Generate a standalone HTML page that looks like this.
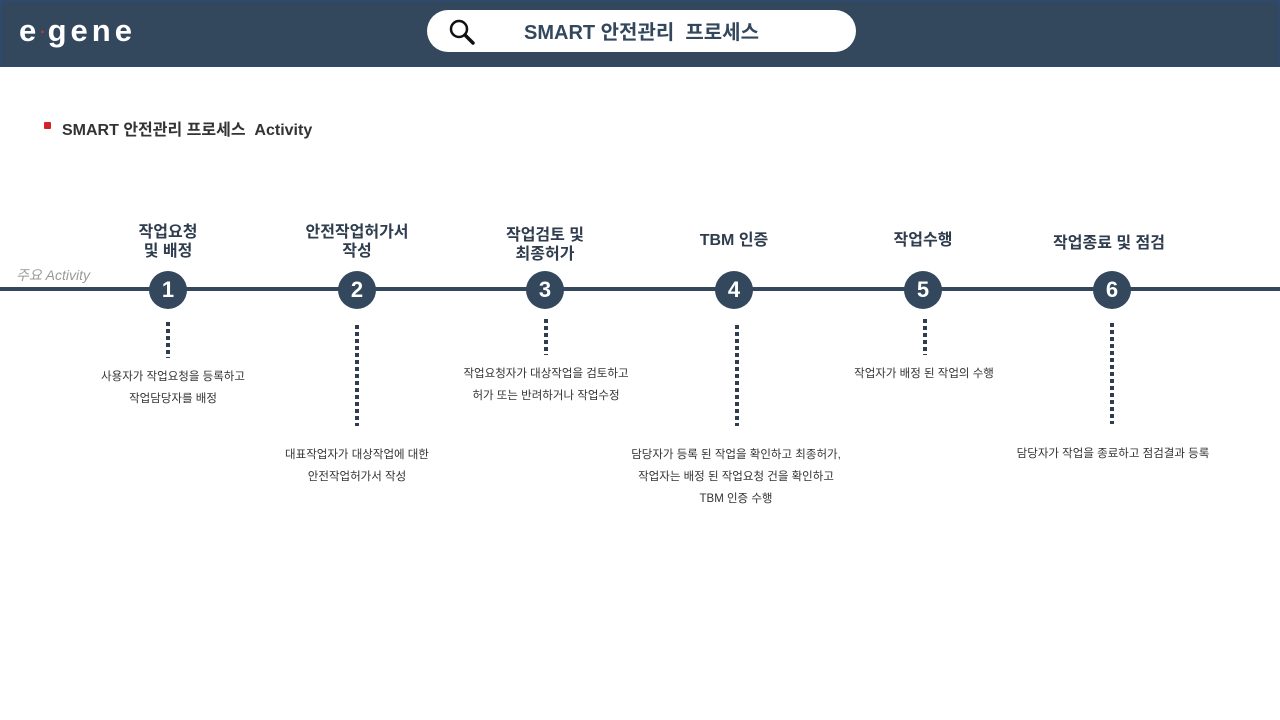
<!DOCTYPE html>
<html><head><meta charset="utf-8"><style>
*{margin:0;padding:0;box-sizing:border-box}
body{width:1280px;height:720px;background:#fff;position:relative;overflow:hidden;font-family:"Liberation Sans","Noto Sans CJK KR",sans-serif;color:#2f3d4e}
.hdr{position:absolute;left:0;top:0;width:1280px;height:67px;background:#33475d;border:1px solid #2c4a78}
.logo{position:absolute;left:18px;top:14px;color:#fff;font-size:31px;line-height:32px;font-weight:bold;letter-spacing:4px;font-family:"Liberation Sans",sans-serif}
.logo i{color:#d33;font-style:normal;font-size:16px;vertical-align:middle;letter-spacing:2px}
.search{position:absolute;left:426px;top:9px;width:429px;height:42px;background:#fff;border-radius:21px}
.search span{position:absolute;left:0;width:100%;text-align:center;top:6px;font-size:20px;font-weight:bold;color:#33475d}
.t{position:absolute;font-weight:bold;text-align:center;font-size:16px;line-height:19px;color:#2f3d4e;width:200px}
.d{position:absolute;text-align:center;font-size:11.5px;line-height:22px;color:#333;width:280px}
.line{position:absolute;left:0;top:287px;width:1280px;height:4px;background:#33475d}
.c{position:absolute;width:38px;height:38px;border-radius:50%;background:#33475d;color:#fff;font-weight:bold;font-size:22px;text-align:center;line-height:38px;top:271px}
.dot{position:absolute;width:4px;background:repeating-linear-gradient(#2f3d4e 0 4px,transparent 4px 7px)}
</style></head><body>
<div class="hdr"><div class="logo">e<i>·</i>gene</div>
<div class="search">
<svg style="position:absolute;left:21px;top:8px" width="28" height="28" viewBox="0 0 28 28"><circle cx="11" cy="11" r="8" fill="none" stroke="#111" stroke-width="2.5"/><line x1="17" y1="17" x2="25" y2="25" stroke="#111" stroke-width="3.5" stroke-linecap="round"/></svg>
<span>SMART 안전관리&nbsp; 프로세스</span></div></div>
<div style="position:absolute;left:44px;top:122px;width:7px;height:7px;background:#d2232a;border-radius:1px"></div>
<div style="position:absolute;left:62px;top:116px;font-size:16px;font-weight:bold;color:#333">SMART 안전관리 프로세스&nbsp; Activity</div>
<div style="position:absolute;left:16px;top:265px;font-size:14px;color:#999;font-style:italic">주요 Activity</div>
<div class="line"></div>
<div class="t" style="left:68px;top:223px">작업요청<br>및 배정</div>
<div class="t" style="left:257px;top:223px">안전작업허가서<br>작성</div>
<div class="t" style="left:445px;top:226px">작업검토 및<br>최종허가</div>
<div class="t" style="left:634px;top:231px">TBM 인증</div>
<div class="t" style="left:823px;top:231px">작업수행</div>
<div class="t" style="left:1009px;top:234px">작업종료 및 점검</div>
<div class="c" style="left:149px">1</div><div class="c" style="left:338px">2</div><div class="c" style="left:526px">3</div>
<div class="c" style="left:715px">4</div><div class="c" style="left:904px">5</div><div class="c" style="left:1093px">6</div>
<div class="dot" style="left:166px;top:322px;height:36px"></div>
<div class="dot" style="left:355px;top:325px;height:101px"></div>
<div class="dot" style="left:544px;top:319px;height:36px"></div>
<div class="dot" style="left:735px;top:325px;height:101px"></div>
<div class="dot" style="left:923px;top:319px;height:36px"></div>
<div class="dot" style="left:1110px;top:323px;height:101px"></div>
<div class="d" style="left:33px;top:366px">사용자가 작업요청을 등록하고<br>작업담당자를 배정</div>
<div class="d" style="left:217px;top:444px">대표작업자가 대상작업에 대한<br>안전작업허가서 작성</div>
<div class="d" style="left:406px;top:363px">작업요청자가 대상작업을 검토하고<br>허가 또는 반려하거나 작업수정</div>
<div class="d" style="left:596px;top:444px">담당자가 등록 된 작업을 확인하고 최종허가,<br>작업자는 배정 된 작업요청 건을 확인하고<br>TBM 인증 수행</div>
<div class="d" style="left:784px;top:363px">작업자가 배정 된 작업의 수행</div>
<div class="d" style="left:973px;top:443px">담당자가 작업을 종료하고 점검결과 등록</div>
</body></html>
